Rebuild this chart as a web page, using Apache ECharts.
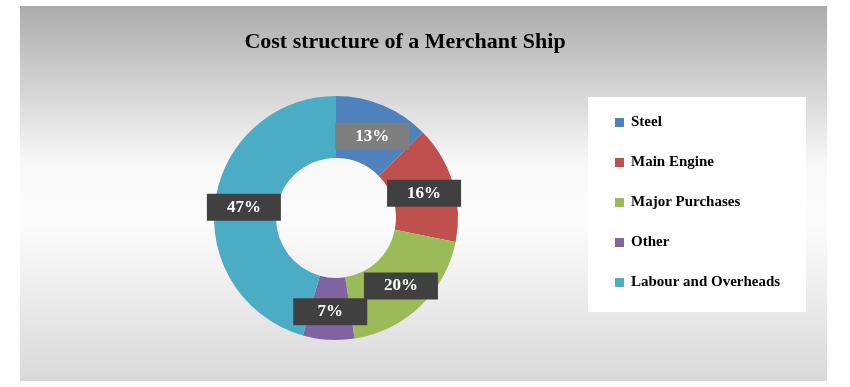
<!DOCTYPE html>
<html>
<head>
<meta charset="utf-8">
<script src="https://cdn.jsdelivr.net/npm/echarts@6/dist/echarts.min.js"></script>
<style>
html,body{margin:0;padding:0;background:#fff;}
#c{width:850px;height:387px;}
</style>
</head>
<body>
<div id="c"></div>
<script>
const chartTitle = 'Cost structure of a Merchant Ship';
const categories = ['Steel', 'Main Engine', 'Major Purchases', 'Other', 'Labour and Overheads'];
const values = [13, 16, 20, 7, 47];
const colors = ['#4F81BD', '#C0504D', '#9BBB59', '#8064A2', '#4BACC6'];
const labelBoxColors = ['#7f7f7f', '#404040', '#404040', '#404040', '#404040'];
const labelOffsets = [[0, 5], [-2, 2], [0, 0], [0, 0], [1, 2]];

const chart = echarts.init(document.getElementById('c'), null, {renderer: 'canvas'});
const serif = '"Liberation Serif", "Times New Roman", serif';

const data = categories.map((name, i) => ({
  name: name,
  value: values[i],
  itemStyle: {color: colors[i]},
  label: {backgroundColor: labelBoxColors[i], offset: labelOffsets[i]}
}));

chart.setOption({
  animation: false,
  graphic: [
    {
      type: 'rect', z: -10, silent: true,
      shape: {x: 20, y: 6, width: 807, height: 375},
      style: {
        fill: new echarts.graphic.LinearGradient(0, 0, 0, 1, [
          {offset: 0, color: '#acacac'},
          {offset: 0.42, color: '#f8f8f8'},
          {offset: 0.58, color: '#fcfcfc'},
          {offset: 1, color: '#d9d9d9'}
        ])
      }
    },
    {
      type: 'rect', z: -9, silent: true,
      shape: {x: 588, y: 97, width: 218, height: 215},
      style: {fill: '#ffffff'}
    }
  ],
  title: {
    text: chartTitle,
    left: 400, top: 26, textAlign: 'center',
    textStyle: {fontFamily: serif, fontWeight: 'bold', fontSize: 22, color: '#000'}
  },
  legend: {
    orient: 'vertical',
    left: 610, top: 110,
    itemWidth: 9, itemHeight: 9,
    itemGap: 25,
    icon: 'rect',
    data: categories,
    textStyle: {fontFamily: serif, fontWeight: 'bold', fontSize: 15, lineHeight: 15, color: '#000', padding: [0, 0, 0, 2]}
  },
  series: [{
    type: 'pie',
    center: [336, 218],
    radius: [60, 122],
    startAngle: 90,
    clockwise: true,
    avoidLabelOverlap: false,
    labelLayout: {hideOverlap: false},
    label: {
      show: true,
      position: 'inside',
      formatter: '{c}%',
      color: '#fff',
      fontFamily: serif,
      fontWeight: 'bold',
      fontSize: 17,
      width: 74,
      align: 'center',
      padding: [5, 0, 5, 0]
    },
    labelLine: {show: false},
    emphasis: {disabled: true},
    data: data
  }]
});
</script>
</body>
</html>
